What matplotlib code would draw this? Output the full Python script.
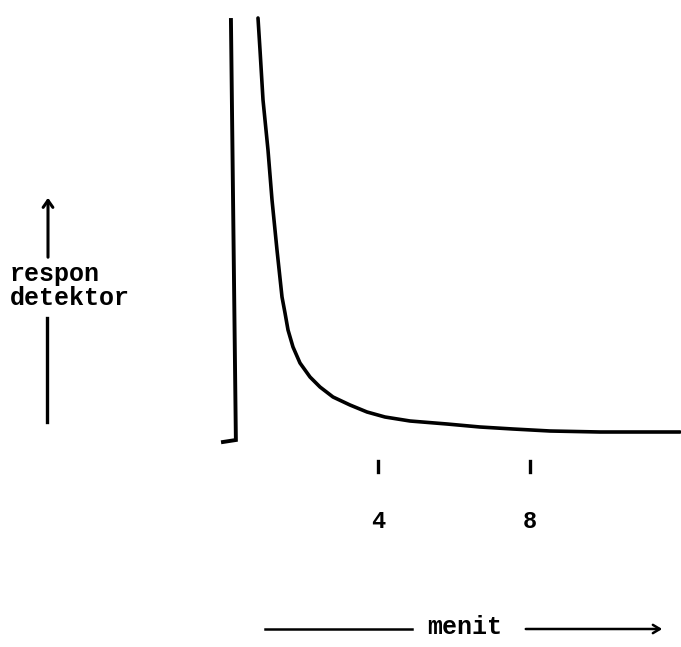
import matplotlib
matplotlib.use("Agg")
import matplotlib.pyplot as plt
from matplotlib.patches import FancyArrowPatch
from matplotlib.lines import Line2D

# Detector trace (time in minutes, response in arbitrary units)
time_min = [0.842, 0.895, 0.974, 1.105, 1.211, 1.342, 1.474, 1.553, 1.632,
            1.763, 1.947, 2.211, 2.474, 2.816, 3.263, 3.711, 4.184, 4.842,
            5.816, 6.684, 7.553, 8.526, 9.842, 11.947]
response = [4.20, 3.88, 3.38, 2.88, 2.38, 1.88, 1.41, 1.25, 1.08,
            0.91, 0.75, 0.61, 0.51, 0.41, 0.33, 0.26, 0.21, 0.17,
            0.14, 0.11, 0.09, 0.07, 0.06, 0.06]

# Injection mark: vertical stroke with a short foot at the baseline
inject_t = [0.13, 0.26, 0.26, -0.08]
inject_r = [4.18, -0.02, -0.02, -0.04]

tick_times = [4, 8]
tick_labels = ["4", "8"]

W, H = 681, 647
fig = plt.figure(figsize=(W / 100, H / 100), dpi=100)
ax = fig.add_axes([0, 0, 1, 1])
ax.set_xlim(-226 / 38, (W - 226) / 38)
ax.set_ylim((438 - H) / 100, 438 / 100)
ax.axis("off")

ink = "black"
font = dict(family=["Liberation Mono", "DejaVu Sans Mono"], weight="bold", color=ink)

ax.plot(time_min, response, color=ink, lw=2.6, solid_capstyle="round",
        solid_joinstyle="round")
ax.plot(inject_t, inject_r, color=ink, lw=2.8, solid_joinstyle="miter")

# Time ticks under the baseline
for t, lab in zip(tick_times, tick_labels):
    ax.plot([t, t], [-0.23, -0.34], color=ink, lw=2.4)
    ax.text(t, -0.83, lab, ha="center", va="center", fontsize=17, **font)


def fx(px):
    return px / W


def fy(py):
    return 1 - py / H


# Vertical axis caption with arrow
fig.add_artist(FancyArrowPatch(
    (fx(48), fy(260)), (fx(48), fy(195)), transform=fig.transFigure,
    arrowstyle="->,head_length=5,head_width=3.5", color=ink, lw=2.2))
fig.add_artist(Line2D([fx(47), fx(47)], [fy(318), fy(422)],
                      transform=fig.transFigure, color=ink, lw=2.4))
fig.text(fx(10), fy(286), "respon\ndetektor", ha="left", va="center",
         fontsize=18, linespacing=0.95, **font)

# Horizontal axis caption with arrow
fig.add_artist(Line2D([fx(265), fx(412)], [fy(629), fy(629)],
                      transform=fig.transFigure, color=ink, lw=1.8))
fig.text(fx(465), fy(627), "menit", ha="center", va="center", fontsize=18, **font)
fig.add_artist(FancyArrowPatch(
    (fx(523), fy(629)), (fx(665), fy(629)), transform=fig.transFigure,
    arrowstyle="->,head_length=5,head_width=3", color=ink, lw=1.8))

fig.savefig("out.png", dpi=100, facecolor="white")
